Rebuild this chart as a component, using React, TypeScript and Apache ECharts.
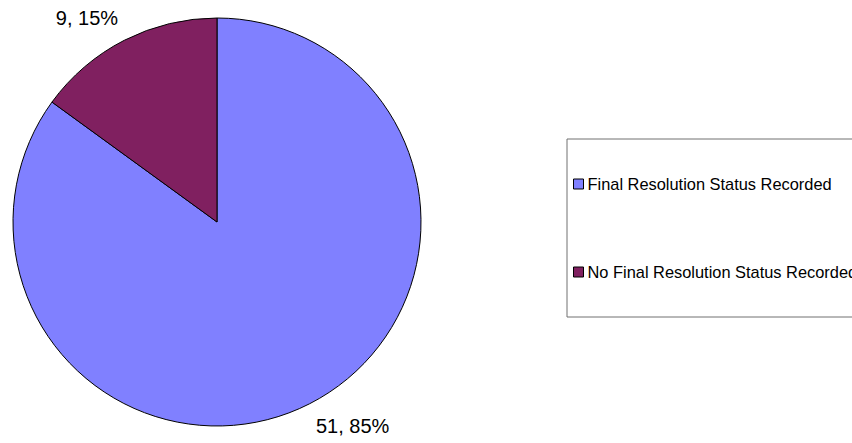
import React, { useEffect, useRef } from "react";
import * as echarts from "echarts";

const categories = ["Final Resolution Status Recorded", "No Final Resolution Status Recorded"];
const values = [51, 9];
const colors = ["#8080FF", "#802060"];

const FONT = 'Arial, "Liberation Sans", sans-serif';

export default function App() {
  const ref = useRef<HTMLDivElement>(null);
  useEffect(() => {
    if (!ref.current) return;
    const chart = echarts.init(ref.current, null, { renderer: "svg" });
    chart.setOption({
      animation: false,
      backgroundColor: "#ffffff",
      legend: {
        orient: "vertical",
        left: 567,
        top: 139,
        padding: [35, 60, 35, 6],
        itemGap: 68,
        itemWidth: 10,
        itemHeight: 10,
        borderColor: "#707070",
        borderWidth: 1,
        icon: "rect",
        textStyle: { fontFamily: FONT, fontSize: 16.4, color: "#000", lineHeight: 20, padding: [0, 0, 0, -1] },
        itemStyle: { borderColor: "#000", borderWidth: 1 },
        data: categories,
      },
      series: [
        {
          type: "pie",
          center: [217, 222],
          radius: 204,
          startAngle: 90,
          clockwise: true,
          avoidLabelOverlap: false,
          percentPrecision: 0,
          itemStyle: { borderColor: "#000", borderWidth: 1 },
          emphasis: { disabled: true },
          label: {
            show: true,
            position: "outside",
            formatter: "{c}, {d}%",
            fontFamily: FONT,
            fontSize: 20,
            color: "#000",
            distanceToLabelLine: -5,
          },
          labelLine: { show: false, length: 25, length2: 0 },
          data: categories.map((name, i) => ({
            name,
            value: values[i],
            itemStyle: { color: colors[i] },
          })),
        },
      ],
    });
    return () => chart.dispose();
  }, []);
  return (
    <div
      ref={ref}
      style={{ position: "fixed", left: 0, top: 0, width: 852, height: 443 }}
    />
  );
}
